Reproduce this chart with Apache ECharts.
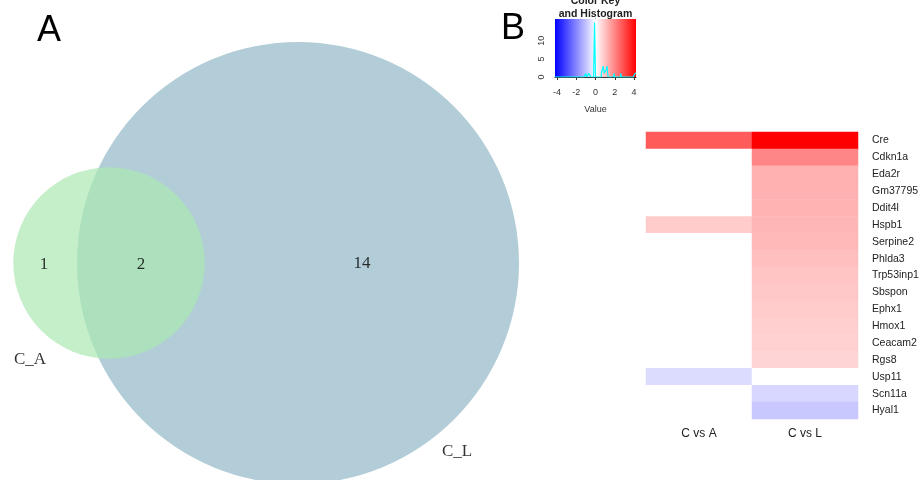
<!DOCTYPE html>
<html><head><meta charset="utf-8">
<script src="https://cdn.jsdelivr.net/npm/echarts@6/dist/echarts.min.js"></script>
<style>html,body{margin:0;padding:0;background:#fff}#c{width:922px;height:480px}</style>
</head><body><div id="c"></div>
<script>
// ---------- Panel A: Venn data ----------
const setNames = ['C_A', 'C_L'];
const regionNames = ['C_A only', 'C_A & C_L', 'C_L only'];
const regionCounts = [1, 2, 14];

// ---------- Panel B: heatmap data ----------
const genes = ['Cre','Cdkn1a','Eda2r','Gm37795','Ddit4l','Hspb1','Serpine2','Phlda3','Trp53inp1','Sbspon','Ephx1','Hmox1','Ceacam2','Rgs8','Usp11','Scn11a','Hyal1'];
const comparisons = ['C vs A', 'C vs L'];
const valuesCvsA = [2.7, 0, 0, 0, 0, 0.85, 0, 0, 0, 0, 0, 0, 0, 0, -0.58, 0, 0];
const valuesCvsL = [4.2, 2.0, 1.3, 1.3, 1.25, 1.2, 1.15, 1.05, 0.95, 0.9, 0.85, 0.8, 0.75, 0.7, 0, -0.66, -0.91];
const keyTicksX = [-4, -2, 0, 2, 4];
const keyTicksY = [0, 5, 10];

// ---------- layout / style (not data) ----------
const vennLayout = { C_A: { center: [109, 217], fill: 'rgb(171,232,178)', opacity: 0.7 },
                     C_L: { center: [298, 217], fill: '#b2cdd7', opacity: 1 } };
const radiusScale = 55.25;
const regionLabelPos = [[44, 215], [141, 215], [362, 216]];
const setLabelPos = { C_A: [30, 120], C_L: [457, 28] };
const keyRange = [-4.2, 4.2];
const keyColors = ['#0000ff', '#ffffff', '#ff0000'];
const histBinWidth = 0.1;

// set sizes from region counts
const setSizes = { C_A: regionCounts[0] + regionCounts[1], C_L: regionCounts[1] + regionCounts[2] };
const circleData = ['C_L', 'C_A'].map(n => ({ name: n, value: [vennLayout[n].center[0], vennLayout[n].center[1], radiusScale * Math.sqrt(setSizes[n])] }));

const heatData = [];
genes.forEach((g, i) => { heatData.push([0, i, valuesCvsA[i]]); heatData.push([1, i, valuesCvsL[i]]); });

// histogram of all heatmap values
const allVals = valuesCvsA.concat(valuesCvsL);
const nBins = Math.round((keyRange[1] - keyRange[0]) / histBinWidth);
const counts = new Array(nBins).fill(0);
allVals.forEach(v => {
  let k = Math.ceil((v - keyRange[0]) / histBinWidth - 1e-9) - 1;
  k = Math.max(0, Math.min(nBins - 1, k));
  counts[k]++;
});
const histLine = [];
for (let k = 0; k < nBins; k++) histLine.push([keyRange[0] + k * histBinWidth, counts[k]]);
histLine.push([keyRange[1], counts[nBins - 1]]);

const chart = echarts.init(document.getElementById('c'), null, { renderer: 'canvas' });
const axisFont = 'Liberation Sans, Arial, sans-serif';
chart.setOption({
  animation: false,
  backgroundColor: '#fff',
  graphic: [
    { type: 'text', x: 49, y: 31, style: { text: 'A', font: '36px "Liberation Sans", Arial', fill: '#000', align: 'center', verticalAlign: 'middle' } },
    { type: 'text', x: 513, y: 29, style: { text: 'B', font: '36px "Liberation Sans", Arial', fill: '#000', align: 'center', verticalAlign: 'middle' } },
    { type: 'text', x: 595.5, y: 1, style: { text: 'Color Key', font: 'bold 10.5px "Liberation Sans", Arial', fill: '#222', align: 'center', verticalAlign: 'middle' } },
    { type: 'text', x: 595.5, y: 14, style: { text: 'and Histogram', font: 'bold 10.5px "Liberation Sans", Arial', fill: '#222', align: 'center', verticalAlign: 'middle' } }
  ],
  grid: [
    { left: 0, top: 0, width: 540, height: 480, outerBoundsMode: 'none' },
    { left: 646, top: 132, width: 212, height: 287, outerBoundsMode: 'none' },
    { left: 555, top: 19, width: 81, height: 58, outerBoundsMode: 'none' }
  ],
  xAxis: [
    { gridIndex: 0, type: 'value', min: 0, max: 540, show: false },
    { gridIndex: 1, type: 'category', data: comparisons, axisLine: { show: false }, axisTick: { show: false }, splitLine: { show: false },
      axisLabel: { margin: 9, fontSize: 12, color: '#222', fontFamily: axisFont } },
    { gridIndex: 2, type: 'value', min: keyRange[0], max: keyRange[1], offset: 4,
      axisLine: { show: true, lineStyle: { color: '#333', width: 1 } },
      axisTick: { show: true, customValues: keyTicksX, length: 3, lineStyle: { color: '#333' } },
      axisLabel: { customValues: keyTicksX, fontSize: 9, margin: 7, color: '#333', fontFamily: axisFont },
      splitLine: { show: false },
      name: 'Value', nameLocation: 'middle', nameGap: 24, nameTextStyle: { fontSize: 9, color: '#333', fontFamily: axisFont } }
  ],
  yAxis: [
    { gridIndex: 0, type: 'value', min: 0, max: 480, show: false },
    { gridIndex: 1, type: 'category', data: genes, inverse: true, position: 'right', axisLine: { show: false }, axisTick: { show: false }, splitLine: { show: false },
      axisLabel: { margin: 14, fontSize: 10.5, color: '#222', fontFamily: axisFont } },
    { gridIndex: 2, type: 'value', min: 0, max: 16, offset: 4, position: 'left',
      axisLine: { show: true, lineStyle: { color: '#333', width: 1 } },
      axisTick: { show: true, customValues: [0, 5, 10, 15], length: 3, lineStyle: { color: '#333' } },
      axisLabel: { customValues: keyTicksY, rotate: 90, fontSize: 9, margin: 5, color: '#333', fontFamily: axisFont },
      splitLine: { show: false } }
  ],
  visualMap: {
    type: 'continuous', show: false, min: keyRange[0], max: keyRange[1], dimension: 2, seriesIndex: 3,
    inRange: { color: keyColors }
  },
  series: [
    { type: 'custom', xAxisIndex: 0, yAxisIndex: 0, clip: false, data: circleData, silent: true,
      renderItem: (params, api) => {
        const c = api.coord([api.value(0), api.value(1)]);
        const r = api.size([api.value(2), 0])[0];
        const lay = vennLayout[circleData[params.dataIndex].name];
        return { type: 'circle', shape: { cx: c[0], cy: c[1], r: r }, style: { fill: lay.fill, opacity: lay.opacity } };
      } },
    { type: 'scatter', xAxisIndex: 0, yAxisIndex: 0, symbolSize: 0, silent: true,
      data: regionCounts.map((n, i) => ({ name: regionNames[i], value: [regionLabelPos[i][0], regionLabelPos[i][1], n] })),
      label: { show: true, position: 'inside', formatter: p => String(p.value[2]), fontFamily: '"Liberation Serif", "DejaVu Serif", serif', fontSize: 17, color: '#000' } },
    { type: 'scatter', xAxisIndex: 0, yAxisIndex: 0, symbolSize: 0, silent: true,
      data: setNames.map(n => ({ name: n, value: setLabelPos[n] })),
      label: { show: true, position: 'inside', formatter: '{b}', fontFamily: '"Liberation Serif", "DejaVu Serif", serif', fontSize: 17, color: '#000' } },
    { type: 'heatmap', xAxisIndex: 1, yAxisIndex: 1, data: heatData, silent: true, itemStyle: { borderWidth: 0 } },
    { type: 'custom', xAxisIndex: 2, yAxisIndex: 2, data: [[keyRange[0], keyRange[1]]], silent: true, z: 1,
      renderItem: (params, api) => {
        const p0 = api.coord([api.value(0), 16]);
        const p1 = api.coord([api.value(1), 0]);
        return { type: 'rect', shape: { x: p0[0], y: p0[1], width: p1[0] - p0[0], height: p1[1] - p0[1] },
          style: { fill: new echarts.graphic.LinearGradient(0, 0, 1, 0, [
            { offset: 0, color: keyColors[0] }, { offset: 0.5, color: keyColors[1] }, { offset: 1, color: keyColors[2] }]) } };
      } },
    { type: 'line', xAxisIndex: 2, yAxisIndex: 2, data: histLine, step: 'end', symbol: 'none', silent: true, z: 3,
      lineStyle: { color: '#00ffff', width: 1.2 } }
  ]
});
</script>
</body></html>
